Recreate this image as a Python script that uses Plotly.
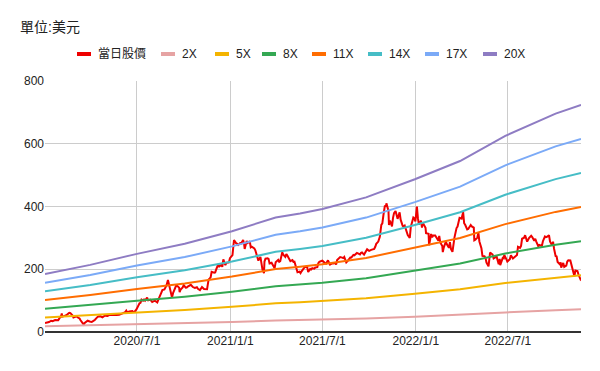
import plotly.graph_objects as go

# ---------------- data ----------------
price_dates = [
 "2020-01-02","2020-01-06","2020-01-08","2020-01-10","2020-01-14","2020-01-17","2020-01-22","2020-01-24","2020-01-28","2020-01-30",
 "2020-02-03","2020-02-04","2020-02-05","2020-02-07","2020-02-11","2020-02-13","2020-02-18","2020-02-19","2020-02-21","2020-02-25",
 "2020-02-27","2020-03-02","2020-03-04","2020-03-06","2020-03-10","2020-03-12","2020-03-16","2020-03-18","2020-03-20","2020-03-24",
 "2020-03-26","2020-03-30","2020-04-01","2020-04-03","2020-04-07","2020-04-09","2020-04-14","2020-04-16","2020-04-20","2020-04-22",
 "2020-04-24","2020-04-28","2020-04-30","2020-05-04","2020-05-06","2020-05-08","2020-05-12","2020-05-14","2020-05-18","2020-05-20",
 "2020-05-22","2020-05-27","2020-05-29","2020-06-02","2020-06-04","2020-06-08","2020-06-10","2020-06-12","2020-06-16","2020-06-18",
 "2020-06-22","2020-06-24","2020-06-26","2020-06-30","2020-07-02","2020-07-06","2020-07-08","2020-07-10","2020-07-13","2020-07-15",
 "2020-07-17","2020-07-21","2020-07-23","2020-07-27","2020-07-29","2020-07-31","2020-08-04","2020-08-06","2020-08-10","2020-08-12",
 "2020-08-14","2020-08-18","2020-08-20","2020-08-24","2020-08-26","2020-08-28","2020-08-31","2020-09-02","2020-09-04","2020-09-08",
 "2020-09-10","2020-09-14","2020-09-16","2020-09-18","2020-09-22","2020-09-23","2020-09-25","2020-09-29","2020-10-01","2020-10-05",
 "2020-10-07","2020-10-09","2020-10-13","2020-10-15","2020-10-19","2020-10-21","2020-10-23","2020-10-27","2020-10-29","2020-11-02",
 "2020-11-04","2020-11-06","2020-11-10","2020-11-12","2020-11-16","2020-11-17","2020-11-19","2020-11-23","2020-11-25","2020-11-30",
 "2020-12-02","2020-12-04","2020-12-08","2020-12-10","2020-12-14","2020-12-16","2020-12-18","2020-12-22","2020-12-24","2020-12-29",
 "2020-12-31",
 "2021-01-05","2021-01-07","2021-01-08","2021-01-12","2021-01-14","2021-01-15","2021-01-20","2021-01-22","2021-01-26","2021-01-28",
 "2021-01-29","2021-02-02","2021-02-04","2021-02-08","2021-02-10","2021-02-12","2021-02-17","2021-02-19","2021-02-23","2021-02-25",
 "2021-03-01","2021-03-03","2021-03-05","2021-03-08","2021-03-09","2021-03-11","2021-03-15","2021-03-17","2021-03-19","2021-03-23",
 "2021-03-25","2021-03-29","2021-03-31","2021-04-05","2021-04-07","2021-04-09","2021-04-13","2021-04-15","2021-04-19","2021-04-21",
 "2021-04-23","2021-04-27","2021-04-29","2021-05-03","2021-05-05","2021-05-07","2021-05-11","2021-05-13","2021-05-17","2021-05-19",
 "2021-05-21","2021-05-25","2021-05-27","2021-06-01","2021-06-03","2021-06-07","2021-06-09","2021-06-11","2021-06-15","2021-06-17",
 "2021-06-21","2021-06-23","2021-06-25","2021-06-29","2021-07-01","2021-07-06","2021-07-08","2021-07-12","2021-07-14","2021-07-16",
 "2021-07-20","2021-07-22","2021-07-26","2021-07-28","2021-07-30","2021-08-03","2021-08-05","2021-08-09","2021-08-11","2021-08-13",
 "2021-08-17","2021-08-19","2021-08-23","2021-08-25","2021-08-27","2021-08-31","2021-09-02","2021-09-07","2021-09-09","2021-09-13",
 "2021-09-15","2021-09-17","2021-09-21","2021-09-23","2021-09-27","2021-09-29","2021-10-01","2021-10-05","2021-10-07","2021-10-11",
 "2021-10-13","2021-10-15","2021-10-19","2021-10-21","2021-10-22","2021-10-25","2021-10-27","2021-10-29","2021-11-01","2021-11-03",
 "2021-11-04","2021-11-08","2021-11-09","2021-11-11","2021-11-15","2021-11-17","2021-11-19","2021-11-22","2021-11-24","2021-11-26",
 "2021-11-30","2021-12-02","2021-12-06","2021-12-08","2021-12-10","2021-12-14","2021-12-16","2021-12-20","2021-12-22","2021-12-27",
 "2021-12-29","2021-12-31",
 "2022-01-03","2022-01-05","2022-01-07","2022-01-11","2022-01-13","2022-01-14","2022-01-18","2022-01-20","2022-01-21","2022-01-24",
 "2022-01-26","2022-01-27","2022-01-31","2022-02-02","2022-02-04","2022-02-08","2022-02-10","2022-02-14","2022-02-16","2022-02-18",
 "2022-02-22","2022-02-23","2022-02-25","2022-03-01","2022-03-03","2022-03-07","2022-03-09","2022-03-11","2022-03-14","2022-03-16",
 "2022-03-18","2022-03-22","2022-03-24","2022-03-28","2022-03-30","2022-04-01","2022-04-04","2022-04-06","2022-04-08","2022-04-12",
 "2022-04-14","2022-04-19","2022-04-21","2022-04-25","2022-04-26","2022-04-28","2022-05-02","2022-05-04","2022-05-06","2022-05-10",
 "2022-05-12","2022-05-16","2022-05-18","2022-05-20","2022-05-24","2022-05-26","2022-05-27","2022-06-01","2022-06-03","2022-06-07",
 "2022-06-09","2022-06-13","2022-06-15","2022-06-16","2022-06-21","2022-06-23","2022-06-24","2022-06-28","2022-06-30","2022-07-05",
 "2022-07-07","2022-07-11","2022-07-13","2022-07-15","2022-07-19","2022-07-21","2022-07-25","2022-07-27","2022-07-29","2022-08-02",
 "2022-08-04","2022-08-08","2022-08-10","2022-08-12","2022-08-16","2022-08-18","2022-08-22","2022-08-24","2022-08-26","2022-08-30",
 "2022-09-01","2022-09-06","2022-09-08","2022-09-12","2022-09-14","2022-09-16","2022-09-20","2022-09-22","2022-09-26","2022-09-28",
 "2022-09-30","2022-10-03","2022-10-05","2022-10-07","2022-10-11","2022-10-13","2022-10-14","2022-10-18","2022-10-20","2022-10-24",
 "2022-10-26","2022-10-28","2022-11-01","2022-11-03","2022-11-07","2022-11-09","2022-11-11","2022-11-15","2022-11-17","2022-11-21",
 "2022-11-22",
]
price_values = [
 28.7,30.1,32.8,31.9,35.9,34.3,38.0,37.6,37.8,42.7,
 52.0,59.1,49.0,49.9,51.8,53.6,60.1,61.2,60.2,53.3,
 46.3,49.6,49.9,46.9,43.0,37.4,29.7,24.1,28.5,33.7,
 36.0,33.5,32.1,32.0,36.4,38.2,47.3,49.6,49.9,48.3,
 47.0,51.3,52.1,51.0,52.1,54.7,53.9,53.6,54.2,54.1,
 54.5,54.7,55.7,58.8,59.0,63.3,68.3,62.4,65.5,66.7,
 66.7,64.0,64.0,72.0,80.6,91.4,93.0,103.0,99.8,103.7,
 100.1,109.5,100.9,102.9,99.8,95.4,99.0,99.1,94.5,104.6,
 110.1,125.6,133.5,135.8,143.4,147.6,166.1,149.4,139.9,110.1,
 123.8,139.4,147.3,147.6,141.4,126.8,135.6,141.9,149.4,141.4,
 141.7,144.7,149.6,150.2,143.3,140.5,140.4,142.7,137.7,133.5,
 141.4,143.3,136.9,137.3,136.2,147.0,166.7,174.0,191.7,189.2,
 190.1,199.7,216.6,209.0,213.9,207.6,231.7,213.4,220.6,221.9,
 235.2,
 245.0,272.0,293.3,283.2,281.7,275.4,283.5,282.2,293.6,278.9,
 264.5,290.1,283.8,289.3,270.0,272.0,266.7,260.4,233.5,227.4,
 239.5,218.6,199.3,187.7,224.5,233.9,235.2,233.2,218.3,220.7,
 213.5,203.4,222.6,230.1,223.6,225.7,254.1,246.3,239.5,248.3,
 243.5,234.3,225.9,229.0,223.3,224.2,205.7,190.7,192.6,187.8,
 193.3,203.0,206.9,207.5,191.0,201.2,199.1,203.3,201.7,205.5,
 206.5,219.2,223.9,226.4,227.3,219.9,217.7,228.3,218.8,214.9,
 218.5,218.0,219.7,215.1,229.1,236.2,238.6,237.1,235.7,239.3,
 221.5,224.9,235.5,237.2,237.1,245.8,244.4,251.9,250.7,247.4,
 252.0,253.3,246.7,252.0,263.5,260.9,258.4,261.9,262.5,264.5,
 271.6,281.0,288.1,298.8,303.2,341.6,346.0,371.3,402.9,399.9,
 410.0,386.7,341.2,354.9,336.3,363.7,379.0,385.6,372.0,360.6,
 381.6,358.1,338.5,335.9,339.0,319.5,309.0,300.0,334.6,364.7,
 362.1,352.3,
 399.9,362.7,342.3,354.8,332.7,349.9,337.1,331.9,314.6,313.0,
 312.8,276.4,312.2,301.9,307.8,307.5,302.6,291.7,306.0,285.7,
 273.8,254.7,270.0,288.1,279.4,268.2,286.7,265.1,255.5,279.8,
 301.8,331.3,336.0,364.0,362.3,361.5,381.8,346.7,341.8,326.7,
 328.3,340.8,336.3,332.7,292.1,293.8,301.0,317.5,288.6,266.7,
 242.4,241.5,236.5,221.3,209.4,236.1,253.2,246.8,234.5,238.9,
 239.7,215.7,233.0,213.1,236.4,235.1,245.7,232.2,224.5,232.3,
 244.5,234.3,237.0,240.1,245.1,271.7,268.4,274.4,297.2,300.6,
 308.6,288.2,294.4,300.0,306.6,302.9,290.6,297.1,288.1,273.0,
 277.2,274.4,289.3,304.4,302.6,303.4,308.7,288.6,276.0,287.8,
 265.3,242.4,240.8,223.1,216.5,221.7,205.0,220.2,207.3,211.3,
 224.6,228.5,227.8,215.3,197.1,177.6,196.0,194.4,183.2,167.9,
 169.9,
]

eps_dates = ["2020-01-02","2020-03-31","2020-07-01","2020-10-03","2021-01-04","2021-03-31",
             "2021-05-18","2021-07-01","2021-09-25","2021-12-30","2022-03-29","2022-06-26",
             "2022-10-03","2022-11-22"]
eps_values = [9.25,10.7,12.45,14.05,16.05,18.25,18.9,19.6,21.45,24.35,27.25,31.25,34.8,36.2]

multiples = [2, 5, 8, 11, 14, 17, 20]
band_names = ["2X", "5X", "8X", "11X", "14X", "17X", "20X"]
price_name = "當日股價"

x_tick_vals = ["2020-07-01", "2021-01-01", "2021-07-01", "2022-01-01", "2022-07-01"]
x_tick_text = ["2020/7/1", "2021/1/1", "2021/7/1", "2022/1/1", "2022/7/1"]
y_tick_vals = [0, 200, 400, 600, 800]

# ---------------- style ----------------
price_color = "#ee0000"
band_colors = ["#e6a3a3", "#f4b400", "#34a853", "#ff6d01", "#46bdc6", "#7baaf7", "#8e7cc3"]
FONT = "Liberation Sans, Arial, Noto Sans CJK TC, sans-serif"

W, H = 600, 371
ML, MR, MT, MB = 45, 19, 81, 39
PW, PH = W - ML - MR, H - MT - MB

fig = go.Figure()
fig.add_trace(go.Scatter(x=price_dates, y=price_values, mode="lines", name=price_name,
                         line=dict(color=price_color, width=2), showlegend=False))
for m, nm, col in zip(multiples, band_names, band_colors):
    fig.add_trace(go.Scatter(x=eps_dates, y=[m * e for e in eps_values], mode="lines", name=nm,
                             line=dict(color=col, width=2), showlegend=False))

# custom legend (Google-Sheets-like short swatches)
legend_items = [price_name] + band_names
legend_colors = [price_color] + band_colors
legend_px = [77, 161, 215, 262, 312, 368, 425, 483]  # swatch left edges in px
legend_py = 54
def px2paper_x(px):
    return (px - ML) / PW
def px2paper_y(py):
    return (H - MB - py) / PH
shapes = []
annotations = []
for name, col, lx in zip(legend_items, legend_colors, legend_px):
    shapes.append(dict(type="line", xref="paper", yref="paper",
                       x0=px2paper_x(lx), x1=px2paper_x(lx + 14),
                       y0=px2paper_y(legend_py), y1=px2paper_y(legend_py),
                       line=dict(color=col, width=4)))
    annotations.append(dict(xref="paper", yref="paper", x=px2paper_x(lx + 19), y=px2paper_y(legend_py),
                            xanchor="left", yanchor="middle", showarrow=False, text=name,
                            font=dict(family=FONT, size=12, color="#222222")))

fig.update_layout(
    width=W, height=H,
    margin=dict(l=ML, r=MR, t=MT, b=MB),
    paper_bgcolor="white", plot_bgcolor="white",
    showlegend=False,
    title=dict(text="單位:美元", x=20 / W, xanchor="left", y=1 - 27 / H, yanchor="middle",
               font=dict(family=FONT, size=14, color="#222222")),
    shapes=shapes, annotations=annotations,
    xaxis=dict(type="date", range=["2020-01-02", "2022-11-22"],
               tickvals=x_tick_vals, ticktext=x_tick_text,
               showgrid=True, gridcolor="#cccccc", gridwidth=1,
               showline=False, zeroline=False, ticks="",
               tickfont=dict(family=FONT, size=12, color="#222222")),
    yaxis=dict(range=[0, 800], tickvals=y_tick_vals,
               showgrid=True, gridcolor="#cccccc", gridwidth=1,
               zeroline=True, zerolinecolor="#333333", zerolinewidth=1.5,
               showline=False, ticks="",
               tickfont=dict(family=FONT, size=12, color="#222222")),
)
fig.write_html("out.html", config={"displayModeBar": False},
               post_script="document.body.style.margin='0';")
